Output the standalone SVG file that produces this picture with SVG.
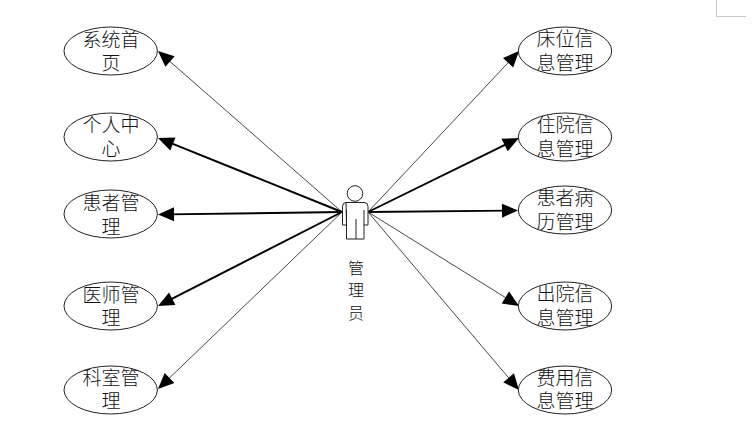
<svg xmlns="http://www.w3.org/2000/svg" width="756" height="439" viewBox="0 0 756 439">
<defs>
<marker id="head" markerUnits="userSpaceOnUse" markerWidth="16" markerHeight="14" viewBox="0 0 16 14" refX="6" refY="7" orient="auto" overflow="visible"><path d="M0 0L16 7L0 14Z" fill="#000"/></marker>
</defs>
<style>
.n ellipse{fill:#fff;stroke:#222;stroke-width:1}
.n text{font-family:"Noto Sans CJK SC","Noto Sans CJK JP",sans-serif;font-size:19px;font-weight:300;fill:#111;text-anchor:middle}
.thin{stroke:#333;stroke-width:.9;fill:none;marker-end:url(#head)}
.thick{stroke:#000;stroke-width:1.9;fill:none;marker-end:url(#head)}
</style>
<rect width="756" height="439" fill="#fff"/>
<path d="M716.500 0V16.500H746" fill="none" stroke="#c8c8c8" stroke-width="1"/>
<g id="connectors">
<line class="thin" x1="342" y1="212" x2="165.500" y2="57.600"/>
<line class="thick" x1="342" y1="212" x2="167.300" y2="141.700"/>
<line class="thick" x1="342" y1="212" x2="168" y2="214.400"/>
<line class="thick" x1="342" y1="212" x2="166.900" y2="301.400"/>
<line class="thin" x1="342" y1="212" x2="165.200" y2="382.100"/>
<line class="thin" x1="368" y1="212" x2="512.200" y2="58.300"/>
<line class="thick" x1="368" y1="212" x2="510" y2="142.400"/>
<line class="thick" x1="368" y1="212" x2="508" y2="210.600"/>
<line class="thin" x1="368" y1="212" x2="510.500" y2="300.700"/>
<line class="thin" x1="368" y1="212" x2="512.500" y2="382.400"/>
</g>
<g id="actor" fill="#fff" stroke="#222" stroke-width="1">
<circle cx="355" cy="193.500" r="7.800"/>
<path d="M346 202.500H364Q368 202.500 368 206.500V225H364V210M364 225V239H356V219M356 239H346.500V225V210M346.500 225H342.500V206.500Q342.500 202.500 346 202.500Z"/>
<g font-family="Noto Sans CJK SC,sans-serif" font-size="16" font-weight="300" fill="#111" stroke="none" text-anchor="middle">
<text x="356" y="274">管</text><text x="356" y="296">理</text><text x="356" y="319">员</text>
</g>
</g>
<g id="n1" class="n"><ellipse cx="110.700" cy="51" rx="46.700" ry="24"/><text x="111" y="47">系统首</text><text x="111" y="70">页</text></g>
<g id="n2" class="n"><ellipse cx="110.700" cy="137" rx="46.700" ry="24"/><text x="111" y="132">个人中</text><text x="111" y="156">心</text></g>
<g id="n3" class="n"><ellipse cx="110.700" cy="214" rx="46.700" ry="24"/><text x="111" y="210">患者管</text><text x="111" y="234">理</text></g>
<g id="n4" class="n"><ellipse cx="110.700" cy="306" rx="46.700" ry="24"/><text x="111" y="302">医师管</text><text x="111" y="325">理</text></g>
<g id="n5" class="n"><ellipse cx="110.700" cy="390" rx="46.700" ry="24"/><text x="111" y="385">科室管</text><text x="111" y="408">理</text></g>
<g id="n6" class="n"><ellipse cx="565" cy="51" rx="46.700" ry="24"/><text x="565" y="46">床位信</text><text x="565" y="70">息管理</text></g>
<g id="n7" class="n"><ellipse cx="565" cy="137" rx="46.700" ry="24"/><text x="565" y="132">住院信</text><text x="565" y="156">息管理</text></g>
<g id="n8" class="n"><ellipse cx="565" cy="210" rx="46.700" ry="24"/><text x="565" y="205">患者病</text><text x="565" y="229">历管理</text></g>
<g id="n9" class="n"><ellipse cx="565" cy="306" rx="46.700" ry="24"/><text x="565" y="301">出院信</text><text x="565" y="325">息管理</text></g>
<g id="n10" class="n"><ellipse cx="565" cy="390" rx="46.700" ry="24"/><text x="565" y="385">费用信</text><text x="565" y="408">息管理</text></g>
</svg>
